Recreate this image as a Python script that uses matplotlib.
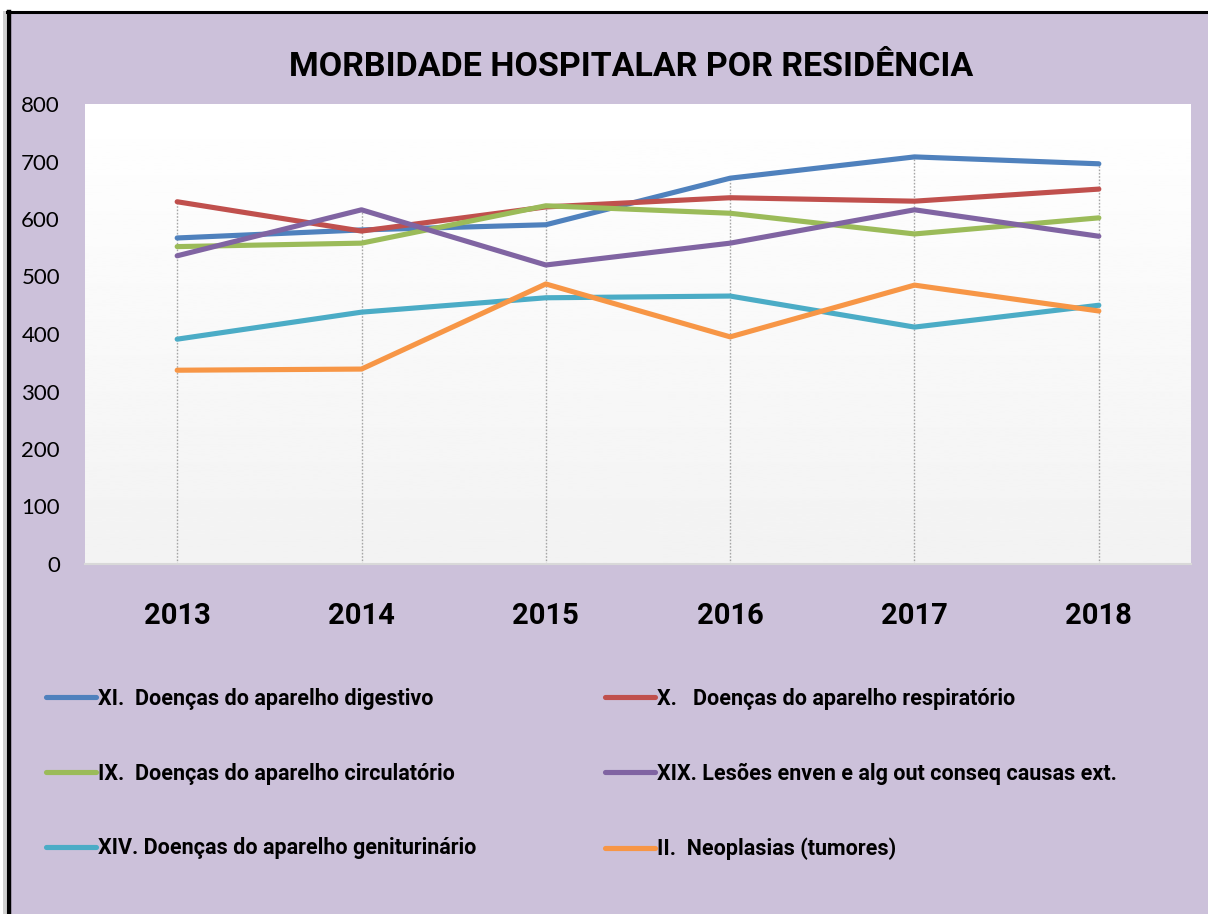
import matplotlib

matplotlib.use("Agg")

import matplotlib.pyplot as plt
import numpy as np
from matplotlib.lines import Line2D
from matplotlib.patches import Rectangle

years = ["2013", "2014", "2015", "2016", "2017", "2018"]

digestivo = [567, 581, 590, 671, 708, 696]
respiratorio = [630, 579, 621, 637, 631, 652]
circulatorio = [552, 558, 623, 610, 574, 602]
lesoes = [536, 616, 520, 558, 616, 570]
geniturinario = [391, 438, 463, 466, 412, 450]
neoplasias = [337, 339, 487, 395, 485, 440]

series_labels = [
    "XI.  Doenças do aparelho digestivo",
    "X.   Doenças do aparelho respiratório",
    "IX.  Doenças do aparelho circulatório",
    "XIX. Lesões enven e alg out conseq causas ext.",
    "XIV. Doenças do aparelho geniturinário",
    "II.  Neoplasias (tumores)",
]
series_values = [digestivo, respiratorio, circulatorio, lesoes, geniturinario, neoplasias]
series_colors = ["#4F81BD", "#C0504D", "#9BBB59", "#8064A2", "#4BACC6", "#F79646"]

y_ticks = [0, 100, 200, 300, 400, 500, 600, 700, 800]

BG = "#CCC1DA"
NARROW = ["Roboto", "DejaVu Sans"]

fig = plt.figure(figsize=(12.08, 9.14), dpi=100)
fig.patch.set_facecolor("white")

# lavender chart area with black frame on top and left
fig.patches.append(Rectangle((10 / 1208, 0), 1 - 10 / 1208, 1 - 13 / 914,
                             transform=fig.transFigure, facecolor=BG,
                             edgecolor="none", zorder=-3))
fig.patches.append(Rectangle((3 / 1208, 0), 3 / 1208, 1 - 11 / 914,
                             transform=fig.transFigure, facecolor="#D0D0D0",
                             edgecolor="none", zorder=-2))
fig.lines.append(Line2D([9 / 1208, 9 / 1208], [0, 1 - 12 / 914],
                        transform=fig.transFigure, color="black", lw=3.2, zorder=-1))
fig.lines.append(Line2D([7 / 1208, 1], [1 - 12 / 914, 1 - 12 / 914],
                        transform=fig.transFigure, color="black", lw=2.2, zorder=-1))

ax = fig.add_axes([85 / 1208, 350 / 914, 1106 / 1208, 460 / 914])
ax.set_zorder(5)
x = np.arange(len(years))

# plot area gradient (white -> light gray)
grad = np.linspace(0.95, 1.0, 256).reshape(-1, 1)
ax.imshow(grad, extent=[-0.5, 5.5, 0, 800], origin="lower", aspect="auto",
          cmap="gray", vmin=0, vmax=1, zorder=0)

# drop lines from the highest value to the axis
tops = np.max(np.array(series_values), axis=0)
ax.vlines(x, 0, tops, colors="#A6A6A6", linestyles=(0, (1.2, 1.2)), lw=1.0, zorder=1)

for values, label, color in zip(series_values, series_labels, series_colors):
    ax.plot(x, values, color=color, lw=3.7, label=label, zorder=3,
            solid_capstyle="round", solid_joinstyle="round")

ax.set_xlim(-0.5, 5.5)
ax.set_ylim(0, 800)
ax.set_xticks(x)
ax.set_xticklabels(years, fontsize=21, fontweight="bold", family=NARROW)
ax.set_yticks(y_ticks)
ax.set_yticklabels([str(v) for v in y_ticks], fontsize=16, family=["Lato", "DejaVu Sans"])
ax.tick_params(axis="x", length=0, pad=27)
ax.tick_params(axis="y", length=0, pad=18)
for side in ["top", "right", "left"]:
    ax.spines[side].set_visible(False)
ax.spines["bottom"].set_color("#D9D9D9")
ax.spines["bottom"].set_linewidth(1.5)

fig.text(631 / 1208, 1 - 67 / 914, "MORBIDADE HOSPITALAR POR RESIDÊNCIA",
         ha="center", va="center", fontsize=24.5, fontweight="bold", family=NARROW)

handles, labels = ax.get_legend_handles_labels()
legend_kw = dict(frameon=False, ncol=1, handlelength=2.3, handletextpad=0.12,
                 labelspacing=2.45, borderaxespad=0, borderpad=0,
                 prop={"family": NARROW, "weight": "bold", "size": 15.5})
leg1 = fig.legend(handles[0::2], labels[0::2], loc="upper left",
                  bbox_to_anchor=(46 / 1208, 1 - 688 / 914), **legend_kw)
leg2 = fig.legend(handles[1::2], labels[1::2], loc="upper left",
                  bbox_to_anchor=(605 / 1208, 1 - 688 / 914), **legend_kw)

fig.savefig("out.png", dpi=100, facecolor=fig.get_facecolor())
